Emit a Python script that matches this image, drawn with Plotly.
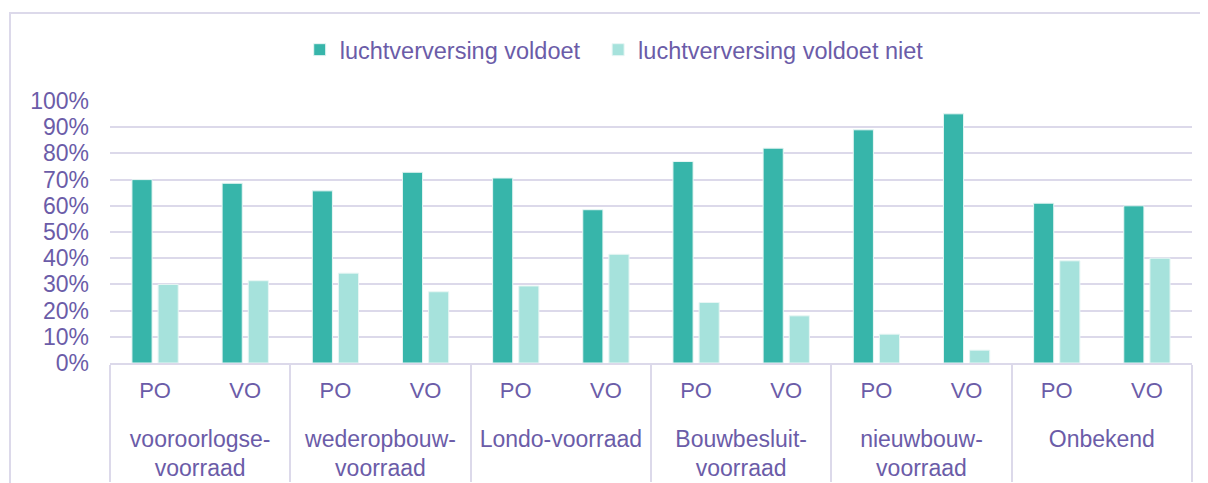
import plotly.graph_objects as go

groups = ["vooroorlogse-<br>voorraad", "wederopbouw-<br>voorraad", "Londo-voorraad",
          "Bouwbesluit-<br>voorraad", "nieuwbouw-<br>voorraad", "Onbekend"]
subs = ["PO", "VO"]
voldoet = [0.70, 0.686, 0.657, 0.728, 0.706, 0.585, 0.769, 0.820, 0.890, 0.951, 0.610, 0.600]
voldoet_niet = [0.30, 0.314, 0.343, 0.272, 0.294, 0.415, 0.231, 0.180, 0.110, 0.049, 0.390, 0.400]
series_names = ["luchtverversing voldoet", "luchtverversing voldoet niet"]
yticks = [i / 10 for i in range(11)]
yticklabels = [f"{i*10}%" for i in range(11)]

txt = "#6B5CA8"
grid = "#DCD9EA"
font = "Liberation Sans, Arial, sans-serif"

glabels = ["<br><span style='font-size:23px'>" + g.replace("<br>", "</span><br><span style='font-size:23px'>") + "</span>"
           for g in groups]
xg = [g for g in glabels for _ in subs]
xs = [s for _ in groups for s in subs]

fig = go.Figure()
fig.add_trace(go.Bar(x=[xg, xs], y=voldoet, name=series_names[0] + "\u00a0\u00a0",
                     marker=dict(color="#37B5AA", line=dict(color="#E8F6F4", width=1))))
fig.add_trace(go.Bar(x=[xg, xs], y=voldoet_niet, name=series_names[1],
                     marker=dict(color="#A6E2DC", line=dict(color="#E8F6F4", width=1))))

fig.update_layout(
    width=1200, height=475,
    margin=dict(l=102, r=16, t=93, b=120),
    paper_bgcolor="white", plot_bgcolor="white",
    font=dict(family=font, size=22, color=txt),
    barmode="group", bargap=0.42, bargroupgap=0.23,
    showlegend=True,
    legend=dict(orientation="h", x=0.466, xanchor="center", y=1.195, yanchor="middle",
                font=dict(size=23.5, color=txt), itemwidth=30, traceorder="normal"),
    xaxis=dict(type="multicategory", showgrid=False, showline=True, linecolor=grid, linewidth=2,
               showdividers=True, dividercolor=grid, dividerwidth=2, automargin=False,
               tickfont=dict(size=22, color=txt), ticks="", ticklabelstandoff=7),
    yaxis=dict(range=[0, 1], tickvals=yticks, ticktext=yticklabels, showgrid=True,
               gridcolor=grid, gridwidth=2, zeroline=False, showline=False, automargin=False,
               tickfont=dict(size=23, color=txt), ticklabelstandoff=20),
    shapes=[dict(type="rect", xref="paper", yref="paper",
                 x0=(10 - 110) / 1082, x1=(1230 - 110) / 1082,
                 y0=(363 - 495) / 262, y1=(363 - 13) / 262,
                 line=dict(color=grid, width=2), fillcolor="rgba(0,0,0,0)", layer="below")],
)

fig.write_html("out.html")
